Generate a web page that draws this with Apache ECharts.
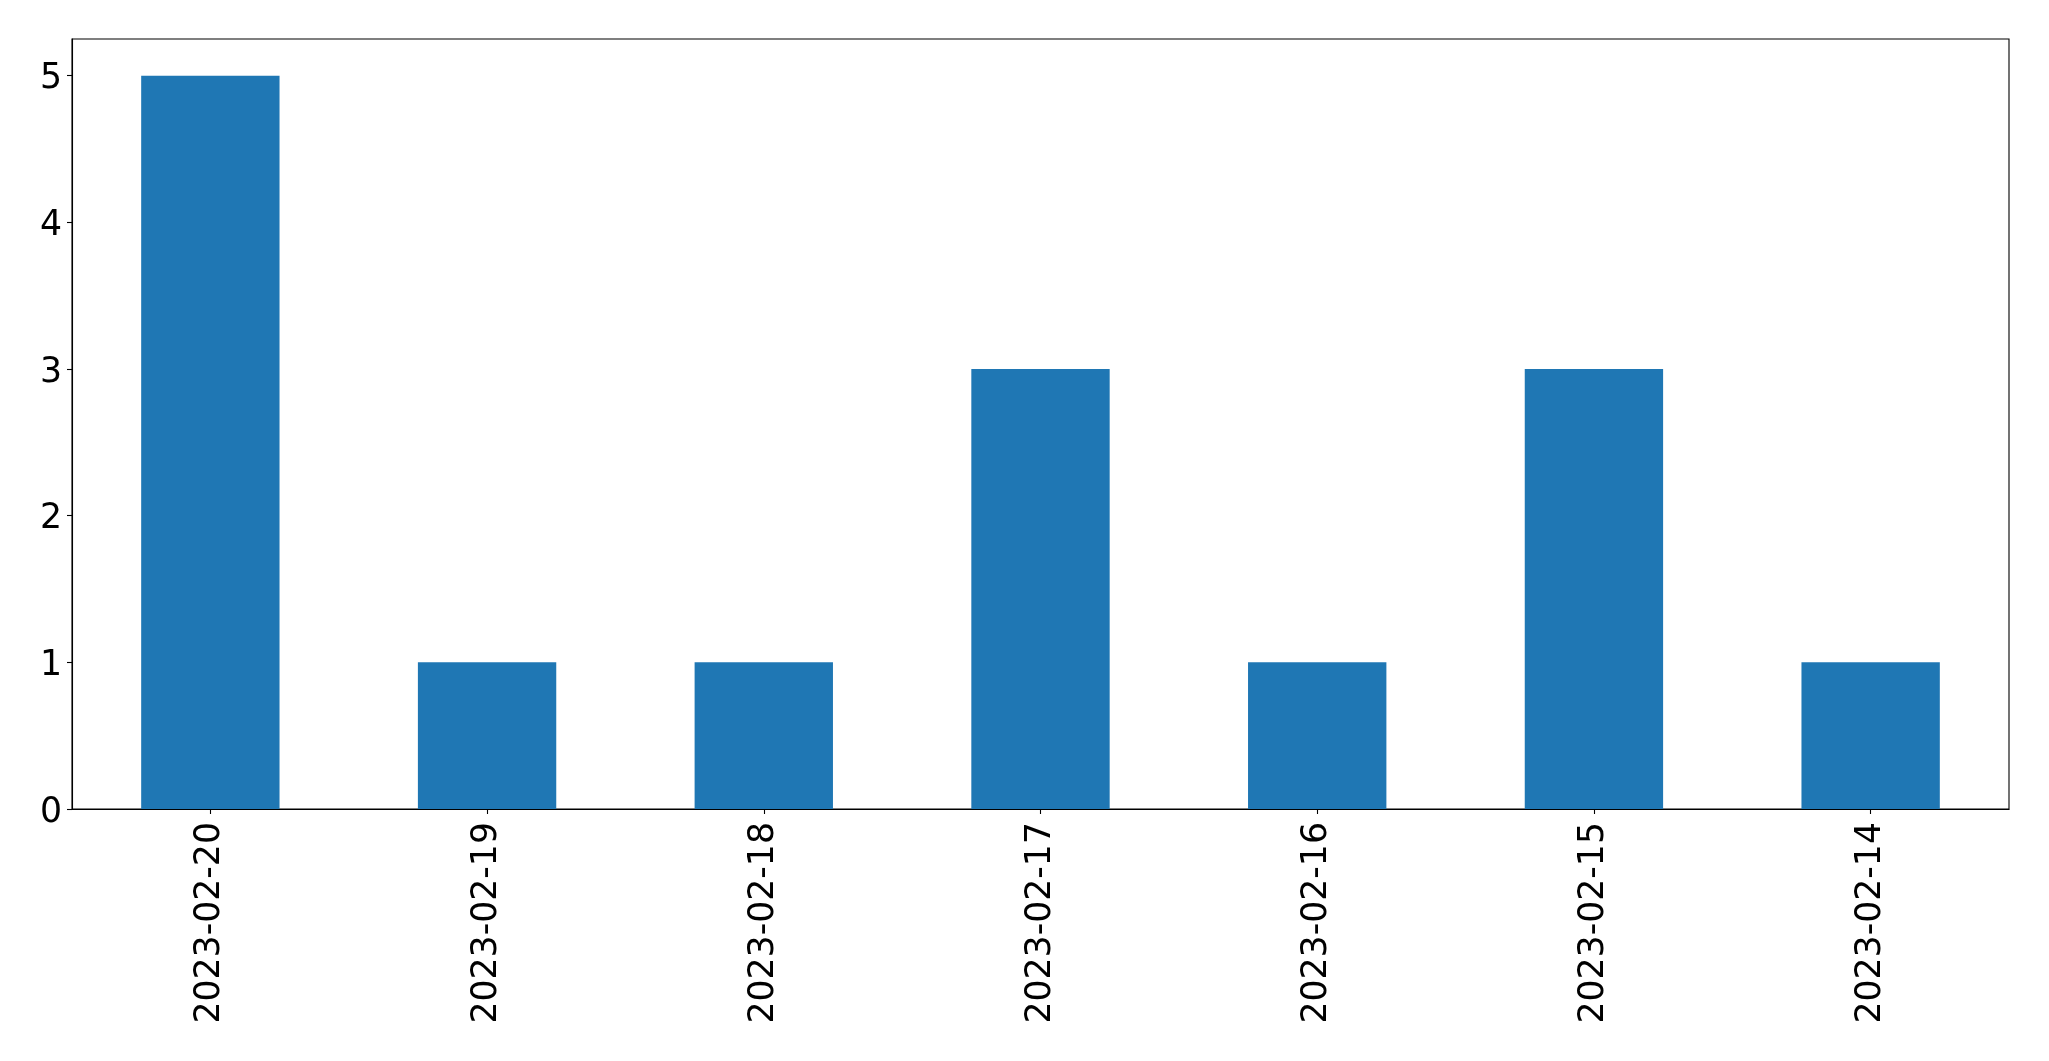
<!DOCTYPE html>
<html>
<head>
<meta charset="utf-8">
<script src="https://cdn.jsdelivr.net/npm/echarts@6/dist/echarts.min.js"></script>
<style>html,body{margin:0;padding:0;background:#fff;}#c{width:2049px;height:1061px;}</style>
</head>
<body>
<div id="c"></div>
<script>
const categories = ['2023-02-20','2023-02-19','2023-02-18','2023-02-17','2023-02-16','2023-02-15','2023-02-14'];
const values = [5, 1, 1, 3, 1, 3, 1];
const yTicks = [0, 1, 2, 3, 4, 5];

const chart = echarts.init(document.getElementById('c'), null, {renderer: 'canvas'});
const font = {fontFamily: 'DejaVu Sans', fontSize: 34.7, color: '#000'};
chart.setOption({
  animation: false,
  backgroundColor: '#fff',
  grid: {left: 72, right: 40, top: 39, bottom: 252, show: true, borderColor: '#000', borderWidth: 1.1, backgroundColor: 'transparent', containLabel: false},
  xAxis: {
    type: 'category',
    data: categories,
    boundaryGap: true,
    axisLine: {show: true, lineStyle: {color: '#000', width: 1.1}},
    axisTick: {show: true, alignWithLabel: true, length: 5, lineStyle: {color: '#000', width: 1.1}},
    axisLabel: Object.assign({rotate: 90, margin: 13, interval: 0}, font),
    splitLine: {show: false}
  },
  yAxis: {
    type: 'value',
    min: 0,
    max: 5.25,
    interval: 1,
    axisLine: {show: true, lineStyle: {color: '#000', width: 1.1}},
    axisTick: {show: true, length: 5, customValues: yTicks, lineStyle: {color: '#000', width: 1.1}},
    axisLabel: Object.assign({
      margin: 10,
      customValues: yTicks,
      formatter: '{a|{value}}',
      rich: {a: {fontFamily: 'DejaVu Sans', fontSize: 34.7, color: '#000', padding: [7, 0, 0, 0]}}
    }, font),
    splitLine: {show: false}
  },
  series: [{
    type: 'bar',
    data: values,
    barWidth: '50%',
    itemStyle: {color: '#1f77b4'}
  }]
});
</script>
</body>
</html>
